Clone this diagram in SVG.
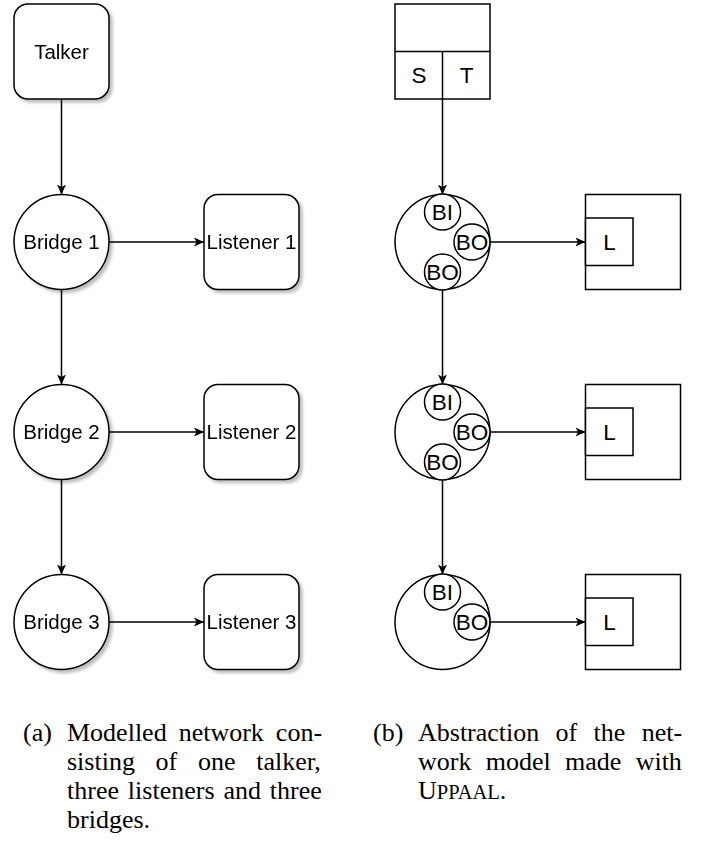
<svg xmlns="http://www.w3.org/2000/svg" width="702" height="846" viewBox="0 0 702 846">
<defs>
<filter id="sh" x="-20%" y="-20%" width="150%" height="150%">
<feGaussianBlur in="SourceAlpha" stdDeviation="1.5"/>
<feOffset dx="3" dy="3" result="o"/>
<feComponentTransfer><feFuncA type="linear" slope="0.25"/></feComponentTransfer>
<feMerge><feMergeNode/><feMergeNode in="SourceGraphic"/></feMerge>
</filter>
<marker id="arr" viewBox="0 0 10 10" refX="10" refY="5" markerWidth="10" markerHeight="10" markerUnits="userSpaceOnUse" orient="auto">
<path d="M0,0.5 L10,5 L0,9.5 L2.5,5 z" fill="#000"/>
</marker>
</defs>
<style>
.n{fill:#fff;stroke:#000;stroke-width:1.5}
.l{fill:none;stroke:#000;stroke-width:1.5}
.c{fill:none;stroke:#000;stroke-width:1.5;marker-end:url(#arr)}
.t{font-family:"Liberation Sans",Arial,sans-serif;font-size:20.5px;fill:#000;text-anchor:middle}
.s{font-family:"Liberation Sans",Arial,sans-serif;font-size:22.5px;fill:#000;text-anchor:middle}
.cap{font-family:"Liberation Serif","Times New Roman",serif;font-size:26px;fill:#000}
</style>
<rect width="702" height="846" fill="#fff"/>

<g id="connectors">
<line class="c" x1="61.5" y1="99" x2="61.5" y2="194.5"/>
<line class="c" x1="109" y1="242" x2="204" y2="242"/>
<line class="c" x1="61.5" y1="289.5" x2="61.5" y2="384.5"/>
<line class="c" x1="109" y1="432" x2="204" y2="432"/>
<line class="c" x1="61.5" y1="479.5" x2="61.5" y2="574.5"/>
<line class="c" x1="109" y1="622" x2="204" y2="622"/>
<line class="c" x1="442.5" y1="99" x2="442.5" y2="194.5"/>
<line class="c" x1="490" y1="242" x2="585.5" y2="242"/>
<line class="c" x1="442.5" y1="290" x2="442.5" y2="384.5"/>
<line class="c" x1="490" y1="432" x2="585.5" y2="432"/>
<line class="c" x1="442.5" y1="480" x2="442.5" y2="574.5"/>
<line class="c" x1="490" y1="622" x2="585.5" y2="622"/>
</g>

<g id="talker" filter="url(#sh)">
<rect class="n" x="14" y="4" width="95" height="95" rx="14"/>
<text class="t" x="61.5" y="58.5">Talker</text>
</g>
<g id="bridge1" filter="url(#sh)">
<circle class="n" cx="61.5" cy="242" r="47.5"/>
<text class="t" x="61.5" y="249">Bridge 1</text>
</g>
<g id="listener1" filter="url(#sh)">
<rect class="n" x="204" y="194.5" width="95" height="95" rx="14"/>
<text class="t" x="251.5" y="249">Listener 1</text>
</g>
<g id="bridge2" filter="url(#sh)">
<circle class="n" cx="61.5" cy="432" r="47.5"/>
<text class="t" x="61.5" y="439">Bridge 2</text>
</g>
<g id="listener2" filter="url(#sh)">
<rect class="n" x="204" y="384.5" width="95" height="95" rx="14"/>
<text class="t" x="251.5" y="439">Listener 2</text>
</g>
<g id="bridge3" filter="url(#sh)">
<circle class="n" cx="61.5" cy="622" r="47.5"/>
<text class="t" x="61.5" y="629">Bridge 3</text>
</g>
<g id="listener3" filter="url(#sh)">
<rect class="n" x="204" y="574.5" width="95" height="95" rx="14"/>
<text class="t" x="251.5" y="629">Listener 3</text>
</g>

<g id="talker-abs">
<rect class="n" x="395" y="4" width="95" height="95"/>
<line class="l" x1="395" y1="51.5" x2="490" y2="51.5"/>
<line class="l" x1="442.5" y1="51.5" x2="442.5" y2="99"/>
<text class="s" x="419" y="83">S</text>
<text class="s" x="466.5" y="83">T</text>
</g>

<g id="bridge1-abs">
<circle class="n" cx="442.5" cy="242" r="47.5"/>
<circle class="n" cx="442.5" cy="212" r="18"/>
<circle class="n" cx="472" cy="242" r="18"/>
<circle class="n" cx="442.5" cy="272" r="18"/>
<text class="s" x="442.5" y="220">BI</text>
<text class="s" x="472" y="250">BO</text>
<text class="s" x="442.5" y="280">BO</text>
</g>
<g id="listener1-abs">
<rect class="n" x="585.5" y="194.5" width="95" height="95"/>
<rect class="n" x="585.5" y="218" width="47.5" height="47.5"/>
<text class="s" x="609.5" y="250">L</text>
</g>

<g id="bridge2-abs">
<circle class="n" cx="442.5" cy="432" r="47.5"/>
<circle class="n" cx="442.5" cy="402" r="18"/>
<circle class="n" cx="472" cy="432" r="18"/>
<circle class="n" cx="442.5" cy="462" r="18"/>
<text class="s" x="442.5" y="410">BI</text>
<text class="s" x="472" y="440">BO</text>
<text class="s" x="442.5" y="470">BO</text>
</g>
<g id="listener2-abs">
<rect class="n" x="585.5" y="384.5" width="95" height="95"/>
<rect class="n" x="585.5" y="408" width="47.5" height="47.5"/>
<text class="s" x="609.5" y="440">L</text>
</g>

<g id="bridge3-abs">
<circle class="n" cx="442.5" cy="622" r="47.5"/>
<circle class="n" cx="442.5" cy="592" r="18"/>
<circle class="n" cx="472" cy="622" r="18"/>
<text class="s" x="442.5" y="600">BI</text>
<text class="s" x="472" y="630">BO</text>
</g>
<g id="listener3-abs">
<rect class="n" x="585.5" y="574.5" width="95" height="95"/>
<rect class="n" x="585.5" y="598" width="47.5" height="47.5"/>
<text class="s" x="609.5" y="630">L</text>
</g>

<g id="caption-a">
<text class="cap" x="23" y="741">(a)</text>
<text class="cap" x="67" y="741" word-spacing="5.5">Modelled network con-</text>
<text class="cap" x="67" y="770" word-spacing="14.2">sisting of one talker,</text>
<text class="cap" x="67" y="799" word-spacing="2.4">three listeners and three</text>
<text class="cap" x="67" y="828">bridges.</text>
</g>
<g id="caption-b">
<text class="cap" x="373" y="741">(b)</text>
<text class="cap" x="418" y="741" word-spacing="9.8">Abstraction of the net-</text>
<text class="cap" x="418" y="770" word-spacing="7.8">work model made with</text>
<text class="cap" x="418" y="799">U<tspan font-size="20.5">PPAAL</tspan>.</text>
</g>
</svg>
